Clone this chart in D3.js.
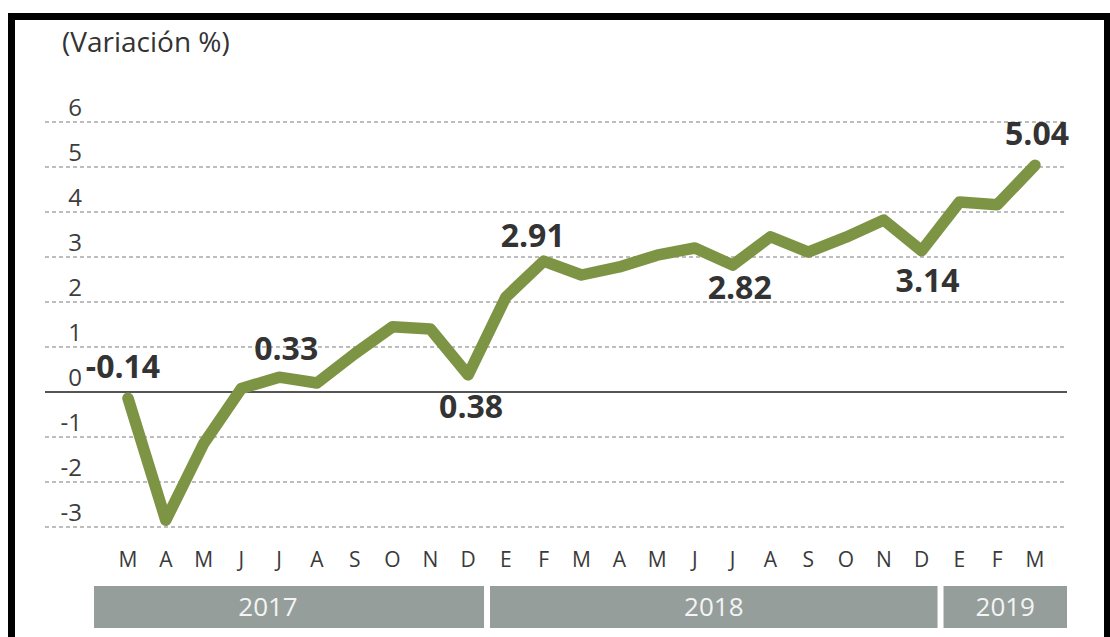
<!DOCTYPE html>
<html>
<head>
<meta charset="utf-8">
<script src="https://cdn.jsdelivr.net/npm/d3@7"></script>
<style>
  html, body { margin: 0; padding: 0; background: #fff; }
  svg { display: block; }
  text { font-family: "Open Sans", "Noto Sans", sans-serif; }
</style>
</head>
<body>
<svg id="chart" width="1110" height="637"></svg>
<script>
// ---- data ----
const months = ["M","A","M","J","J","A","S","O","N","D",
                "E","F","M","A","M","J","J","A","S","O","N","D",
                "E","F","M"];
const values = [-0.14, -2.85, -1.15, 0.08, 0.33, 0.2, 0.85, 1.45, 1.4, 0.38,
                2.11, 2.91, 2.6, 2.78, 3.04, 3.2, 2.82, 3.45, 3.11, 3.44, 3.82, 3.14,
                4.22, 4.16, 5.04];
const yTicks = [6, 5, 4, 3, 2, 1, 0, -1, -2, -3];
const years = ["2017", "2018", "2019"];
const yearStart = [0, 10, 22];   // index of first month of each year
const yearEnd = [9, 21, 24];     // index of last month of each year
const labelIdx = [0, 4, 9, 11, 16, 21, 24];
const title = "(Variación %)";

// ---- label placement (style) ----
const labelOffset = {0:[-5,-20], 4:[7,-17], 9:[3,43], 11:[-11,-14], 16:[7,34], 21:[6,41], 24:[2,-20]};

const svg = d3.select("#chart");
const W = 1110, H = 637;

// frame
svg.append("rect").attr("x", 0).attr("y", 0).attr("width", W).attr("height", H).attr("fill", "#fff");
svg.append("rect").attr("x", 8).attr("y", 13).attr("width", W - 8).attr("height", 7).attr("fill", "#000");
svg.append("rect").attr("x", 8).attr("y", 13).attr("width", 7).attr("height", H - 13).attr("fill", "#000");
svg.append("rect").attr("x", 1104).attr("y", 13).attr("width", 6).attr("height", H - 13).attr("fill", "#000");

const x = d3.scaleLinear().domain([0, months.length - 1]).range([128, 1035]);
const y = d3.scaleLinear().domain([-3, 6]).range([527, 122]);
const step = x(1) - x(0);
const gridX0 = 45, gridX1 = 1067;

// title
svg.append("text").attr("x", 62).attr("y", 52)
  .attr("font-size", 28).attr("fill", "#333").attr("font-weight", 500).text(title);

// gridlines
svg.append("g").selectAll("line").data(yTicks.filter(d => d !== 0)).join("line")
  .attr("x1", gridX0).attr("x2", gridX1)
  .attr("y1", d => y(d)).attr("y2", d => y(d))
  .attr("stroke", "#a8a8a8").attr("stroke-width", 1.6)
  .attr("stroke-dasharray", "4,3");

// zero line
svg.append("line").attr("x1", gridX0).attr("x2", gridX1)
  .attr("y1", y(0)).attr("y2", y(0))
  .attr("stroke", "#555").attr("stroke-width", 2);

// y tick labels
svg.append("g").selectAll("text").data(yTicks).join("text")
  .attr("x", 82).attr("y", d => y(d) - 6)
  .attr("text-anchor", "end")
  .attr("font-size", 24).attr("fill", "#3d3d3d")
  .text(d => d);

// line
const line = d3.line().x((d, i) => x(i)).y(d => y(d));
svg.append("path").datum(values)
  .attr("d", line)
  .attr("fill", "none")
  .attr("stroke", "#7e9445")
  .attr("stroke-width", 11.5)
  .attr("stroke-linejoin", "round")
  .attr("stroke-linecap", "round");

// data labels
svg.append("g").selectAll("text").data(labelIdx).join("text")
  .attr("x", i => x(i) + labelOffset[i][0])
  .attr("y", i => y(values[i]) + labelOffset[i][1])
  .attr("text-anchor", "middle")
  .attr("font-size", 32).attr("font-weight", "bold")
  .attr("fill", "#333")
  .text(i => values[i].toFixed(2));

// month labels
svg.append("g").selectAll("text").data(months).join("text")
  .attr("x", (d, i) => x(i)).attr("y", 567)
  .attr("text-anchor", "middle")
  .attr("font-size", 21).attr("fill", "#3a3a3a")
  .text(d => d);

// year bars
const yearG = svg.append("g");
years.forEach((yr, k) => {
  const x0 = k === 0 ? x(yearStart[k]) - 0.9 * step : x(yearStart[k]) - step / 2 + 3;
  const x1 = k === years.length - 1 ? gridX1 : x(yearEnd[k]) + step / 2 - 3;
  yearG.append("rect").attr("x", x0).attr("y", 586)
    .attr("width", x1 - x0).attr("height", 42).attr("fill", "#959e9a");
  const cx = k === 0 ? (x0 + x1) / 2 - 21 : (x0 + x1) / 2;
  yearG.append("text").attr("x", cx).attr("y", 616)
    .attr("text-anchor", "middle").attr("font-size", 26)
    .attr("fill", "#f4f4f4").text(yr);
});
</script>
</body>
</html>
